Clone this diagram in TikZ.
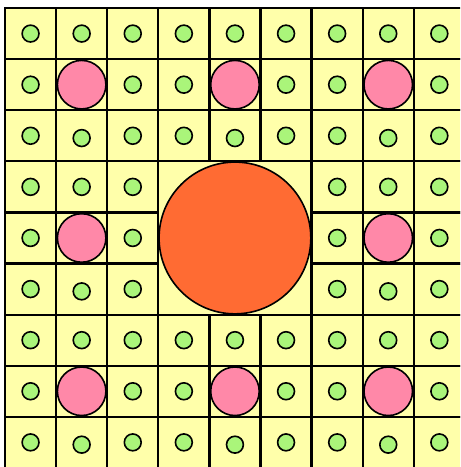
\documentclass[tikz,border=0pt]{standalone}
\usepackage{xcolor}
\usepackage{tikz}
\definecolor{cellyellow}{RGB}{255,255,170}
\definecolor{dotgreen}{RGB}{170,245,122}
\definecolor{holepink}{RGB}{255,136,168}
\definecolor{coreorange}{RGB}{255,107,51}
\tikzset{
  cell/.style={draw=black,line width=1.25pt},
  dot/.style={circle,draw=black,fill=dotgreen,line width=0.9pt,inner sep=0pt,minimum size=0.33cm},
  hole/.style={circle,draw=black,fill=holepink,line width=0.9pt,inner sep=0pt,minimum size=0.95cm},
  core/.style={circle,draw=black,fill=coreorange,line width=0.9pt,inner sep=0pt,minimum size=2.97cm}
}
\begin{document}
\begin{tikzpicture}[x=1cm,y=-1cm]
  \useasboundingbox (-0.098,-0.157) rectangle (8.904,8.982);
  \clip (-0.098,-0.157) rectangle (8.904,8.982);
  \fill[cellyellow] (0,0) rectangle (9.5,9.5);
  % square cells, the middle 3x3 block is one piece
  \foreach \i in {0,...,8}
    \foreach \j in {0,...,8}{
      \pgfmathtruncatemacro\incore{(\i>2)&&(\i<6)&&(\j>2)&&(\j<6)}
      \ifnum\incore=0
        \draw[cell] (\i,\j) rectangle ++(1,1);
      \fi
    }
  \draw[cell] (3,3) rectangle (6,6);
  % circles in the cells
  \foreach \i in {0,...,8}
    \foreach \j in {0,...,8}{
      \pgfmathtruncatemacro\incore{(\i>2)&&(\i<6)&&(\j>2)&&(\j<6)}
      \pgfmathtruncatemacro\tilemid{(mod(\i,3)==1)&&(mod(\j,3)==1)}
      \ifnum\incore=0
        \ifnum\tilemid=1
          \node[hole] (h-\i-\j) at (\i+0.5,\j+0.5) {};
        \else
          \pgfmathsetmacro\dy{((mod(\i,3)==1)&&(mod(\j,3)==2)) ? 0.045 : 0}
          \node[dot] (d-\i-\j) at (\i+0.5,\j+0.5+\dy) {};
        \fi
      \fi
    }
  \node[core] (core) at (4.5,4.5) {};
\end{tikzpicture}
\end{document}
